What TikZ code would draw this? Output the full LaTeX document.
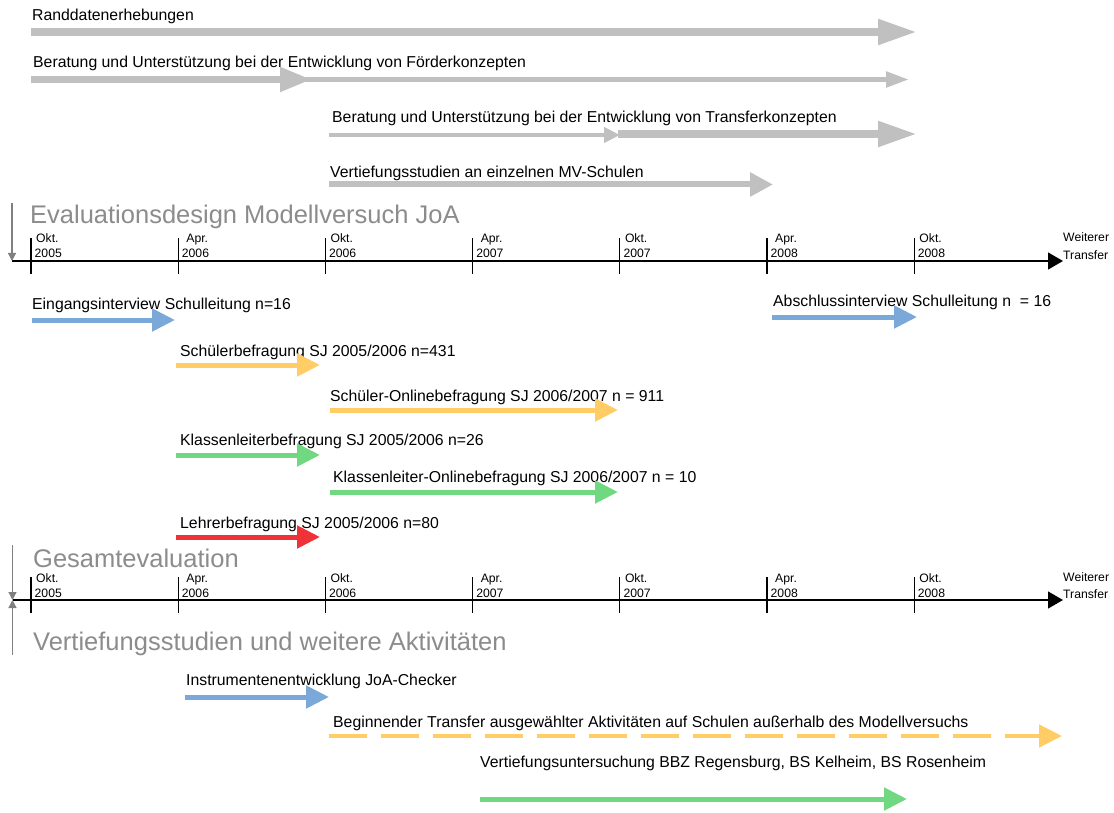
\documentclass[tikz,border=0pt]{standalone}
\usepackage{fontspec}
\setmainfont{Liberation Sans}
\usetikzlibrary{arrows.meta}
\definecolor{arrowgray}{RGB}{192,192,192}
\definecolor{titlegray}{RGB}{140,140,140}
\definecolor{sidegray}{RGB}{128,128,128}
\definecolor{barblue}{RGB}{122,168,216}
\definecolor{baryellow}{RGB}{255,204,102}
\definecolor{bargreen}{RGB}{112,216,128}
\definecolor{barred}{RGB}{238,50,56}
\begin{document}
\begin{tikzpicture}[x=1pt,y=-1pt,
  lbl/.style={anchor=base west,inner sep=0pt,font=\fontsize{15.8}{18}\selectfont},
  ttl/.style={anchor=base west,inner sep=0pt,text=titlegray,font=\fontsize{25.5}{30}\selectfont},
  tlbl/.style={anchor=base west,inner sep=0pt,font=\fontsize{12.2}{14}\selectfont},
  bigbar/.style={draw=arrowgray,line width=8pt,-{Triangle[length=39pt,width=24pt]},arrowgray},
  thinbar/.style={draw=arrowgray,line width=5pt,-{Triangle[length=23pt,width=15pt]},arrowgray},
  smallhead/.style={draw=arrowgray,line width=4.5pt,-{Triangle[length=16pt,width=15pt]},arrowgray},
  midbar/.style={draw=arrowgray,line width=6pt,-{Triangle[length=23pt,width=23pt]},arrowgray},
  cbar/.style={line width=5pt,-{Triangle[length=23pt,width=22pt]}},
  axis/.style={line width=1.2pt,-{Triangle[length=15pt,width=17pt]}},
  tick/.style={line width=1.2pt},
  sidearr/.style={draw=sidegray,line width=1.3pt,-{Triangle[length=8pt,width=8pt]},sidegray}]
\useasboundingbox[fill=white] (0,0) rectangle (1114,813);

% ---------- top gray arrows ----------
\node[lbl] (tRand) at (32,21) {Randdatenerhebungen};
\coordinate (aRs) at (31,32); \coordinate (aRe) at (917,32);
\draw[bigbar] (aRs) -- (aRe);

\node[lbl] (tFoer) at (33,68) {Beratung und Unterstützung bei der Entwicklung von Förderkonzepten};
\coordinate (aF1s) at (31,79.5); \coordinate (aF1e) at (312,79.5);
\coordinate (aF2s) at (285,79.5); \coordinate (aF2e) at (909,79.5);
\draw[thinbar] (aF2s) -- (aF2e);
\draw[bigbar,line width=7.5pt,-{Triangle[length=32pt,width=23pt]}] (aF1s) -- (aF1e);

\node[lbl] (tTrans) at (332,123) {Beratung und Unterstützung bei der Entwicklung von Transferkonzepten};
\coordinate (aT1s) at (329,135); \coordinate (aT1e) at (620,135);
\coordinate (aT2s) at (618,134); \coordinate (aT2e) at (917,134);
\draw[smallhead] (aT1s) -- (aT1e);
\draw[bigbar] (aT2s) -- (aT2e);

\node[lbl] (tMV) at (330,178) {Vertiefungsstudien an einzelnen MV-Schulen};
\coordinate (aMs) at (329,184.5); \coordinate (aMe) at (773,184.5);
\draw[midbar] (aMs) -- (aMe);

% ---------- timeline 1 ----------
\node[ttl] (ttl1) at (30,224) {Evaluationsdesign Modellversuch JoA};
\coordinate (L1s) at (12,261); \coordinate (L1e) at (1063,261);
\draw[axis] (L1s) -- (L1e);
\coordinate (S1s) at (12,203);
\draw[sidearr] (S1s) -- (L1s);

% ---------- timeline 2 ----------
\node[ttl] (ttl2) at (33,567) {Gesamtevaluation};
\node[ttl] (ttl3) at (33,650) {Vertiefungsstudien und weitere Aktivitäten};
\coordinate (L2s) at (12.5,600); \coordinate (L2e) at (1063,600);
\draw[axis] (L2s) -- (L2e);
\coordinate (S2s) at (12.5,545); \coordinate (S3s) at (12.5,655);
\draw[sidearr] (S2s) -- (L2s);
\draw[sidearr] (S3s) -- (L2s);

% ticks and labels on both timelines
\foreach \ly/\tl in {261/a,600/b}{
  \foreach \i/\mo/\yr/\mx in {0/Okt./2005/5,1/Apr./2006/8,2/Okt./2006/5,3/Apr./2007/8,4/Okt./2007/5,5/Apr./2008/8,6/Okt./2008/5}{
    \coordinate (tk\tl\i) at ({31+147.2*\i},\ly);
    \draw[tick] (tk\tl\i) ++(0,-23) -- ++(0,36);
    \node[tlbl] (mo\tl\i) at ({31+147.2*\i+\mx},\ly-18) {\mo};
    \node[tlbl] (yr\tl\i) at ({31+147.2*\i+3.5},\ly-3) {\yr};
  }
  \node[tlbl] (wt\tl) at (1063,\ly-19) {Weiterer};
  \node[tlbl] (tr\tl) at (1063,\ly-2) {Transfer};
}

% ---------- evaluation arrows ----------
\node[lbl] (tEin) at (32,309) {Eingangsinterview Schulleitung n=16};
\coordinate (bEs) at (32,320); \coordinate (bEe) at (175,320);
\draw[cbar,barblue] (bEs) -- (bEe);

\node[lbl] (tAbs) at (773,306) {Abschlussinterview Schulleitung n\ \ = 16};
\coordinate (bAs) at (772,317); \coordinate (bAe) at (917,317);
\draw[cbar,barblue] (bAs) -- (bAe);

\node[lbl] (tSch) at (180,356) {Schülerbefragung SJ 2005/2006 n=431};
\coordinate (bSs) at (176,365); \coordinate (bSe) at (320,365);
\draw[cbar,baryellow] (bSs) -- (bSe);

\node[lbl] (tSO) at (330,401) {Schüler-Onlinebefragung SJ 2006/2007 n = 911};
\coordinate (bSOs) at (330,410); \coordinate (bSOe) at (618,410);
\draw[cbar,baryellow] (bSOs) -- (bSOe);

\node[lbl] (tKl) at (180,445) {Klassenleiterbefragung SJ 2005/2006 n=26};
\coordinate (bKs) at (176,455); \coordinate (bKe) at (320,455);
\draw[cbar,bargreen] (bKs) -- (bKe);

\node[lbl] (tKO) at (333,482) {Klassenleiter-Onlinebefragung SJ 2006/2007 n = 10};
\coordinate (bKOs) at (330,492); \coordinate (bKOe) at (618,492);
\draw[cbar,bargreen] (bKOs) -- (bKOe);

\node[lbl] (tLe) at (180,528) {Lehrerbefragung SJ 2005/2006 n=80};
\coordinate (bLs) at (176,537); \coordinate (bLe) at (320,537);
\draw[cbar,barred] (bLs) -- (bLe);

% ---------- further activities ----------
\node[lbl] (tIn) at (186,685) {Instrumentenentwicklung JoA-Checker};
\coordinate (bIs) at (185,697); \coordinate (bIe) at (329,697);
\draw[cbar,barblue] (bIs) -- (bIe);

\node[lbl] (tBe) at (333,727) {Beginnender Transfer ausgewählter Aktivitäten auf Schulen außerhalb des Modellversuchs};
\coordinate (bBs) at (329,736); \coordinate (bBe) at (1062,736);
\draw[cbar,baryellow,line width=4.5pt,dash pattern=on 38pt off 14pt] (bBs) -- (bBe);

\node[lbl] (tVU) at (480,767) {Vertiefungsuntersuchung BBZ Regensburg, BS Kelheim, BS Rosenheim};
\coordinate (bVs) at (480,799); \coordinate (bVe) at (907,799);
\draw[cbar,bargreen] (bVs) -- (bVe);
\end{tikzpicture}
\end{document}
